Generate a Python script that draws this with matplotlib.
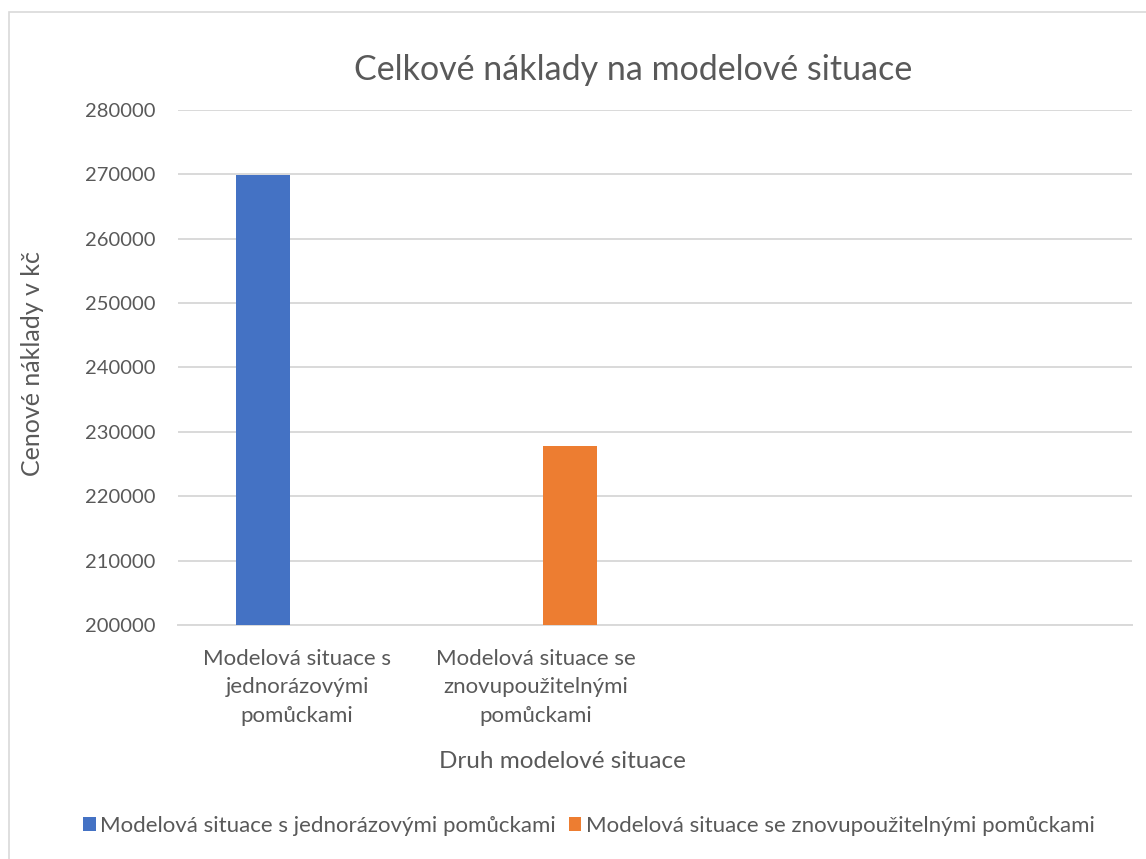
import matplotlib
matplotlib.use('Agg')
import matplotlib.pyplot as plt
import numpy as np
from matplotlib.patches import Rectangle

plt.rcParams['font.family'] = ['Lato', 'Open Sans', 'DejaVu Sans']

# categories (Excel range has 4 rows, the last two are empty)
categories = ['Modelová situace s\njednorázovými\npomůckami',
              'Modelová situace se\nznovupoužitelnými\npomůckami',
              '', '']
series_names = ['Modelová situace s jednorázovými pomůckami',
                'Modelová situace se znovupoužitelnými pomůckami']
values_single = [269900, np.nan, np.nan, np.nan]
values_reusable = [np.nan, 227800, np.nan, np.nan]
yticks = [200000, 210000, 220000, 230000, 240000, 250000, 260000, 270000, 280000]

TEXT = '#595959'
GRID = '#d9d9d9'
colors = ['#4472c4', '#ed7d31']

fig = plt.figure(figsize=(11.46, 8.59), dpi=100)
# light chart-area frame, as in Excel
fig.patches.append(Rectangle((8.5 / 1146, -0.05), 1.2, 1 - 11.5 / 859 + 0.05,
                             transform=fig.transFigure, fill=False,
                             edgecolor=GRID, linewidth=1.2))

ax = fig.add_axes([178 / 1146, 1 - 625 / 859, (1132 - 178) / 1146, (625 - 110) / 859])
x = np.arange(len(categories))
w = 0.226
off = 0.1436
ax.bar(x - off, values_single, width=w, color=colors[0], label=series_names[0], zorder=3)
ax.bar(x + off, values_reusable, width=w, color=colors[1], label=series_names[1], zorder=3)

ax.set_xlim(-0.5, len(categories) - 0.5)
ax.set_ylim(200000, 280000)
ax.set_yticks(yticks)
ax.set_yticklabels([str(t) for t in yticks])
ax.set_xticks(x)
ax.set_xticklabels(categories, linespacing=1.55, fontsize=16)
ax.tick_params(axis='y', length=0, colors=TEXT, labelsize=14.5, pad=16)
ax.tick_params(axis='x', length=0, colors=TEXT, pad=17)
ax.grid(axis='y', color=GRID, linewidth=1.4, zorder=0)
for s in ['top', 'right', 'left']:
    ax.spines[s].set_visible(False)
ax.spines['bottom'].set_color(GRID)
ax.spines['bottom'].set_linewidth(1.4)

fig.text(633 / 1146, 1 - 70 / 859, 'Celkové náklady na modelové situace',
         ha='center', va='center', fontsize=24.5, color=TEXT)
fig.text(33 / 1146, 1 - 364 / 859, 'Cenové náklady v kč', rotation=90,
         ha='center', va='center', fontsize=18, color=TEXT)
fig.text(562 / 1146, 1 - 761 / 859, 'Druh modelové situace',
         ha='center', va='center', fontsize=17.5, color=TEXT)

leg = fig.legend(loc='center', bbox_to_anchor=(589 / 1146, 1 - 826 / 859), ncol=2,
                 frameon=False, fontsize=16, handlelength=0.55, handleheight=0.55,
                 handletextpad=0.2, columnspacing=0.6, labelcolor=TEXT)

fig.savefig('out.png', dpi=100, facecolor='white')
